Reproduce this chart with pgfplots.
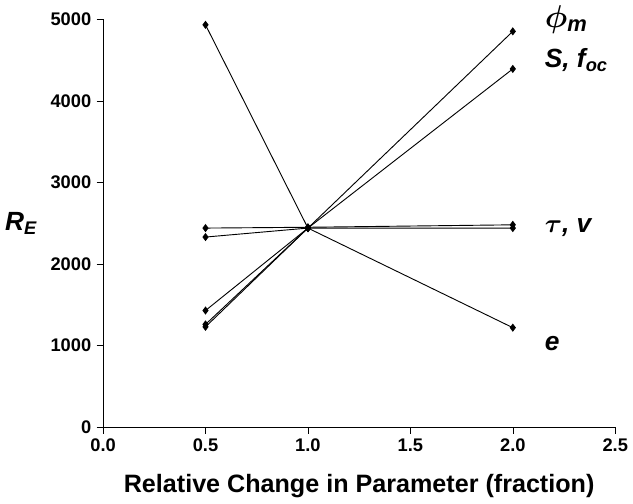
\documentclass[border=0pt]{standalone}
\usepackage{amsmath}
\usepackage{bm}
\usepackage{pgfplots}
\pgfplotsset{compat=1.18}
\usepackage{fontspec}
\setmainfont{Liberation Sans}
\tikzset{ser/.style={black,solid,mark=diamond*,mark size=2.2pt,semithick,mark options={solid,fill=black}}}
\begin{document}
\begin{tikzpicture}
\begin{axis}[
  width=13.4cm, height=11.0cm,
  xmin=0, xmax=2.5, ymin=0, ymax=5000,
  axis lines*=left,
  xtick={0,0.5,...,2.5}, ytick={0,1000,...,5000},
  xticklabel style={/pgf/number format/.cd,fixed,fixed zerofill,precision=1},
  yticklabel style={/pgf/number format/.cd,fixed,1000 sep={}},
  /pgf/number format/assume math mode=true,
  ticklabel style={font=\bfseries\large},
  tick align=outside, tick style={black},
  xlabel={\bfseries\fontsize{16.5}{20}\selectfont Relative Change in Parameter (fraction)},
  xlabel style={yshift=-8pt},
  ylabel={\bfseries\LARGE\itshape R$_{\text{\bfseries\itshape E}}$},
  ylabel style={rotate=-90,xshift=-2pt},
  clip=false,
]
\addplot[ser] coordinates {(0.5,1230) (1,2440) (2,4850)};
\addplot[ser] coordinates {(0.5,1430) (1,2440) (2,4390)};
\addplot[ser] coordinates {(0.5,1260) (1,2440)};
\addplot[ser] coordinates {(0.5,2440) (1,2450) (2,2480)};
\addplot[ser] coordinates {(0.5,2330) (1,2440) (2,2440)};
\addplot[ser] coordinates {(0.5,4930) (1,2440) (2,1220)};
\node[anchor=west,font=\bfseries\itshape\huge] at (axis cs:2.13,5000) {$\bm{\phi}_{\text{\bfseries\itshape m}}$};
\node[anchor=west,font=\bfseries\itshape\LARGE] at (axis cs:2.13,4500) {S, f$_{\text{\bfseries\itshape oc}}$};
\node[anchor=west,font=\bfseries\itshape\LARGE] at (axis cs:2.13,2440) {$\bm{\tau}$, v};
\node[anchor=west,font=\bfseries\itshape\LARGE] at (axis cs:2.13,1030) {e};
\end{axis}
\end{tikzpicture}
\end{document}
